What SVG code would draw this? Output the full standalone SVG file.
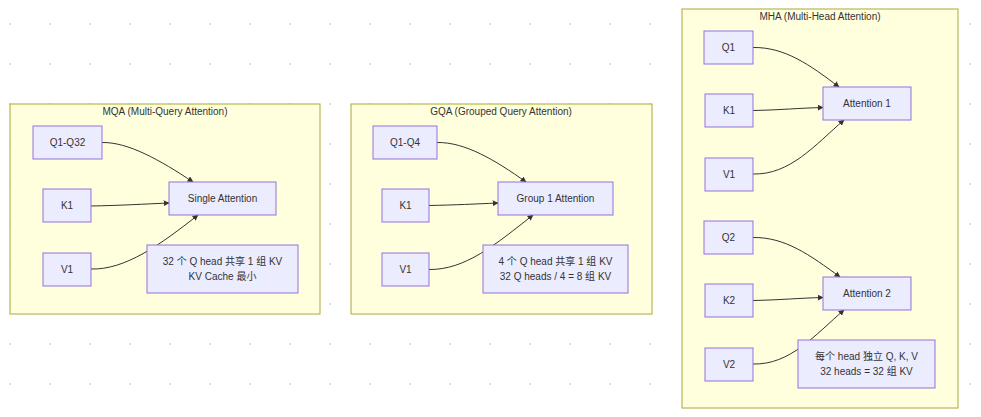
<svg xmlns="http://www.w3.org/2000/svg" width="981" height="417" viewBox="0 0 981 417">
<style>
text{font-family:"Liberation Sans","Noto Sans CJK SC",sans-serif;font-size:10px;fill:#333;text-anchor:middle;dominant-baseline:central}
.cl rect{fill:#ffffde;stroke:#aaaa33;stroke-width:1}
.nd rect{fill:#ececff;stroke:#9370db;stroke-width:1}
.ed path{fill:none;stroke:#333;stroke-width:1;marker-end:url(#arr)}
</style>
<defs>
<pattern id="dots" patternUnits="userSpaceOnUse" x="0" y="0" width="40" height="40">
<rect x="9" y="23" width="2" height="2" fill="#e0e0e0"/>
</pattern>
<marker id="arr" viewBox="0 0 10 10" refX="9" refY="5" markerWidth="6" markerHeight="6" markerUnits="userSpaceOnUse" orient="auto">
<path d="M0,0 L10,5 L0,10 z" fill="#333"/>
</marker>
</defs>
<rect width="981" height="417" fill="#fff"/>
<rect width="981" height="417" fill="url(#dots)"/>
<g id="clusters" class="cl">
<g id="MQA"><rect x="10" y="104" width="310" height="210"/><text x="165" y="111.5">MQA (Multi-Query Attention)</text></g>
<g id="GQA"><rect x="351" y="104" width="301" height="210"/><text x="501" y="111.5">GQA (Grouped Query Attention)</text></g>
<g id="MHA"><rect x="682" y="9" width="276" height="399"/><text x="820" y="16.5">MHA (Multi-Head Attention)</text></g>
</g>
<g id="edges" class="ed">
<path d="M102,142.5 C128,142 160,160 193,182"/>
<path d="M91,206 C120,205.5 145,204 169,203"/>
<path d="M91,269 C125,270 160,245 198,215"/>
<path d="M437,142.5 C465,142 495,160 526,182"/>
<path d="M429,205.5 C455,205 475,204 498,203"/>
<path d="M429,269.5 C465,270 495,245 533,215"/>
<path d="M753,47.5 C785,47 810,65 839,87"/>
<path d="M753,110.5 C780,110 800,108 823,107.5"/>
<path d="M753,174 C790,175 815,145 844,120"/>
<path d="M753,237.5 C785,237 810,255 840,277"/>
<path d="M753,300.5 C780,300 800,298 823,297.5"/>
<path d="M753,364 C790,365 815,335 844,310"/>
</g>
<g class="nd">
<g id="mqa_q"><rect x="33" y="126" width="69" height="33"/><text x="67.5" y="142.5">Q1-Q32</text></g>
<g id="mqa_k"><rect x="43" y="189" width="48" height="33"/><text x="67" y="205.5">K1</text></g>
<g id="mqa_v"><rect x="43" y="253" width="48" height="33"/><text x="67" y="269.5">V1</text></g>
<g id="mqa_att"><rect x="169" y="182" width="107" height="33"/><text x="222.5" y="198.5">Single Attention</text></g>
<g id="mqa_note"><rect x="147" y="245" width="151" height="48"/><text x="222.5" y="261.5">32 个 Q head 共享 1 组 KV</text><text x="222.5" y="276.5">KV Cache 最小</text></g>

<g id="gqa_q"><rect x="373" y="126" width="64" height="33"/><text x="405" y="142.5">Q1-Q4</text></g>
<g id="gqa_k"><rect x="382" y="189" width="47" height="33"/><text x="405.5" y="205.5">K1</text></g>
<g id="gqa_v"><rect x="382" y="253" width="47" height="33"/><text x="405.5" y="269.5">V1</text></g>
<g id="gqa_att"><rect x="498" y="182" width="115" height="33"/><text x="555.5" y="198.5">Group 1 Attention</text></g>
<g id="gqa_note"><rect x="483" y="245" width="145" height="48"/><text x="555.5" y="261.5">4 个 Q head 共享 1 组 KV</text><text x="555.5" y="276.5">32 Q heads / 4 = 8 组 KV</text></g>

<g id="mha_q1"><rect x="704" y="31" width="49" height="33"/><text x="728.5" y="47.5">Q1</text></g>
<g id="mha_k1"><rect x="705" y="94" width="48" height="33"/><text x="729" y="110.5">K1</text></g>
<g id="mha_v1"><rect x="705" y="158" width="48" height="33"/><text x="729" y="174.5">V1</text></g>
<g id="mha_att1"><rect x="823" y="87" width="88" height="33"/><text x="867" y="103.5">Attention 1</text></g>
<g id="mha_q2"><rect x="704" y="221" width="49" height="33"/><text x="728.5" y="237.5">Q2</text></g>
<g id="mha_k2"><rect x="705" y="284" width="48" height="33"/><text x="729" y="300.5">K2</text></g>
<g id="mha_v2"><rect x="705" y="348" width="48" height="33"/><text x="729" y="364.5">V2</text></g>
<g id="mha_att2"><rect x="823" y="277" width="88" height="33"/><text x="867" y="293.5">Attention 2</text></g>
<g id="mha_note"><rect x="798" y="340" width="137" height="48"/><text x="866.5" y="356.5">每个 head 独立 Q, K, V</text><text x="866.5" y="371.5">32 heads = 32 组 KV</text></g>
</g>
</svg>
